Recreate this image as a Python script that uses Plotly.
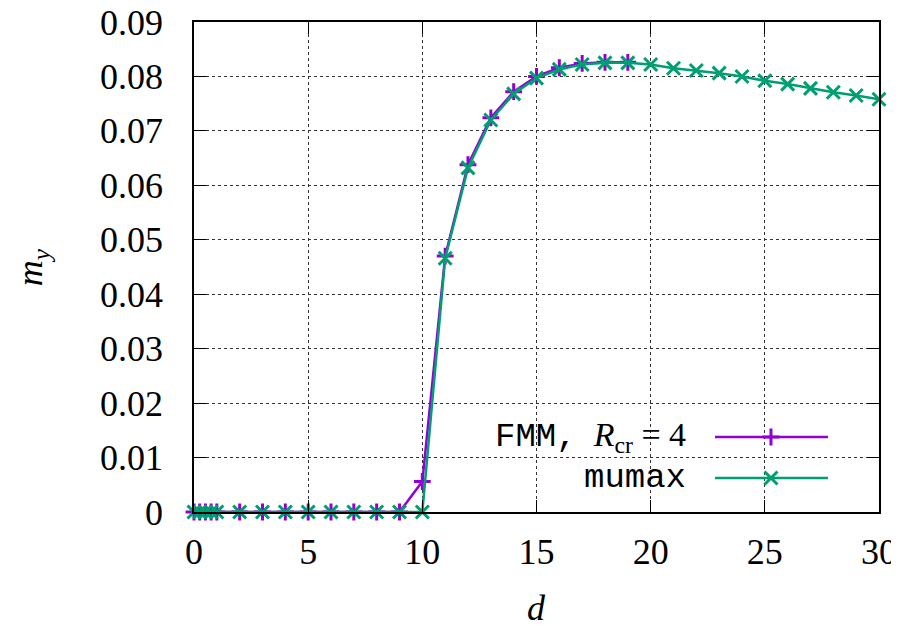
import plotly.graph_objects as go

# ---- data ----
d_fmm = [0, 0.25, 0.5, 0.75, 1, 2, 3, 4, 5, 6, 7, 8, 9, 10, 11, 12, 13, 14, 15, 16, 17, 18, 19]
my_fmm = [0, 0, 0, 0, 0, 0, 0, 0, 0, 0, 0, 0, 0, 0.0056, 0.0470, 0.0638, 0.0724, 0.0772,
          0.0800, 0.0816, 0.0824, 0.0826, 0.0826]

d_mumax = [0, 0.25, 0.5, 0.75, 1, 2, 3, 4, 5, 6, 7, 8, 9, 10, 11, 12, 13, 14, 15, 16, 17,
           18, 19, 20, 21, 22, 23, 24, 25, 26, 27, 28, 29, 30]
my_mumax = [0, 0, 0, 0, 0, 0, 0, 0, 0, 0, 0, 0, 0, 0, 0.0466, 0.0632, 0.0720, 0.0768,
            0.0797, 0.0813, 0.0822, 0.0825, 0.0825, 0.0822, 0.0815, 0.0811, 0.0806,
            0.0800, 0.0792, 0.0786, 0.0778, 0.0771, 0.0765, 0.0758]

x_ticks = [0, 5, 10, 15, 20, 25, 30]
x_ticklabels = ["0", "5", "10", "15", "20", "25", "30"]
y_ticks = [0, 0.01, 0.02, 0.03, 0.04, 0.05, 0.06, 0.07, 0.08, 0.09]
y_ticklabels = ["0", "0.01", "0.02", "0.03", "0.04", "0.05", "0.06", "0.07", "0.08", "0.09"]

MONO = "Liberation Mono"
series_names = [f"<span style='font-family:{MONO}'>FMM,</span>  <i>R</i><sub>cr</sub> = 4",
                f"<span style='font-family:{MONO}'>mumax</span>"]

# ---- style ----
PURPLE = "#9400D3"
GREEN = "#009E73"
SERIF = "'Liberation Serif', 'Times New Roman', Times, serif"
FS = 36

fig = go.Figure()

fig.add_trace(go.Scatter(
    x=d_fmm, y=my_fmm, mode="lines+markers", name="FMM",
    line=dict(color=PURPLE, width=2.5), cliponaxis=False,
    marker=dict(symbol="cross-thin", size=12, line=dict(color=PURPLE, width=3)),
    showlegend=False,
))
fig.add_trace(go.Scatter(
    x=d_mumax, y=my_mumax, mode="lines+markers", name="mumax",
    line=dict(color=GREEN, width=2.5), cliponaxis=False,
    marker=dict(symbol="x-thin", size=13, line=dict(color=GREEN, width=3)),
    showlegend=False,
))

# ---- manual gnuplot-style key (text left, sample right) on an overlay axis ----
key_x0, key_x1, key_xm = 0.7606, 0.9255, 0.8423
key_rows = [0.1531, 0.0694]
key_text_x = 0.7212
styles = [(PURPLE, "cross-thin", 12), (GREEN, "x-thin", 13)]
for (col, sym, sz), ky, name in zip(styles, key_rows, series_names):
    fig.add_trace(go.Scatter(
        x=[key_x0, key_xm, key_x1], y=[ky, ky, ky], xaxis="x2", yaxis="y2",
        mode="lines", line=dict(color=col, width=2.5), showlegend=False, hoverinfo="skip"))
    fig.add_trace(go.Scatter(
        x=[key_xm], y=[ky], xaxis="x2", yaxis="y2", mode="markers",
        marker=dict(symbol=sym, size=sz, line=dict(color=col, width=3)),
        showlegend=False, hoverinfo="skip"))
    fig.add_annotation(xref="paper", yref="paper", x=key_text_x, y=ky, text=name,
                       showarrow=False, xanchor="right", yanchor="middle",
                       font=dict(family=SERIF, size=34, color="black"))

# white key box hiding grid lines
fig.add_shape(type="rect", xref="paper", yref="paper", x0=0.17, x1=0.96, y0=0.0, y1=0.198,
              fillcolor="white", line=dict(width=0), layer="between")

axis_common = dict(
    showline=True, linecolor="black", linewidth=1.5, mirror="ticks",
    ticks="inside", ticklen=12, tickwidth=1, tickcolor="black",
    showgrid=True, gridcolor="#333333", gridwidth=1, griddash="dot",
    zeroline=False, automargin=False, ticklabeloverflow="allow",
    tickfont=dict(family=SERIF, size=FS, color="black"),
)

# page body has an 8px margin: figure sized so the page does not overflow the window
fig.update_layout(
    width=891, height=612,
    margin=dict(l=186, r=20, t=14, b=108, autoexpand=False),
    paper_bgcolor="white", plot_bgcolor="white",
    xaxis=dict(range=[0, 30], tickvals=x_ticks, ticktext=x_ticklabels,
               ticklabelstandoff=7, **axis_common),
    yaxis=dict(range=[0, 0.09], tickvals=y_ticks, ticktext=y_ticklabels,
               ticklabelstandoff=22, **axis_common),
    xaxis2=dict(range=[0, 1], overlaying="x", anchor="y2", visible=False, automargin=False),
    yaxis2=dict(range=[0, 1], overlaying="y", anchor="x2", visible=False, automargin=False),
    font=dict(family=SERIF, size=FS, color="black"),
)

fig.add_annotation(xref="paper", yref="paper", x=0.5, y=-0.196, text="<i>d</i>",
                   showarrow=False, xanchor="center", yanchor="middle",
                   font=dict(family=SERIF, size=FS))
fig.add_annotation(xref="paper", yref="paper", x=-0.236, y=0.5,
                   text="<i>m</i><sub><i>y</i></sub>", textangle=-90,
                   showarrow=False, xanchor="center", yanchor="middle",
                   font=dict(family=SERIF, size=FS))

fig.write_html("out.html")
